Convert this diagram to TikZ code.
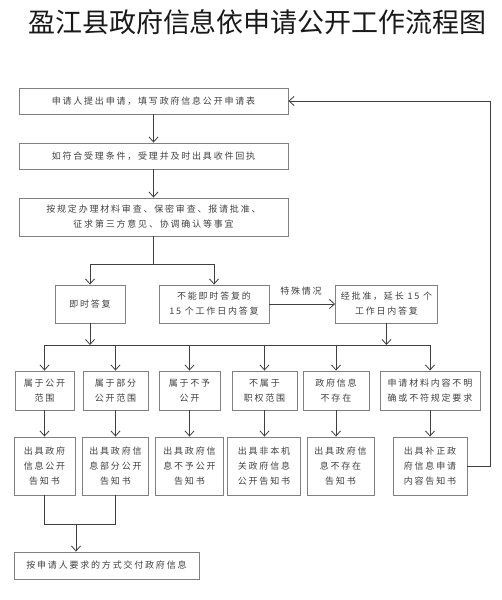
\documentclass[tikz,border=0pt]{standalone}
\usepackage{fontspec}
\setmainfont{Noto Sans CJK SC}
\newfontfamily\cjkbox[LetterSpace=20]{Noto Sans CJK SC}
\usetikzlibrary{arrows.meta}
\definecolor{boxline}{HTML}{808080}
\definecolor{txtcol}{HTML}{404040}
\definecolor{lincol}{HTML}{404040}
\begin{document}
\begin{tikzpicture}[x=1pt,y=-1pt,
  box/.style={draw=boxline, line width=0.9pt, font=\cjkbox\fontsize{9}{15}\selectfont, text=txtcol, align=center, inner sep=0pt},
  conn/.style={draw=lincol, line width=0.8pt},
  arr/.style={conn, -{Straight Barb[length=5pt,width=9pt]}},
  lbl/.style={font=\cjkbox\fontsize{9}{15}\selectfont, text=txtcol}]
\useasboundingbox (0,0) rectangle (502,600);

\node[font=\fontsize{27}{29}\selectfont, text=black!90, inner sep=0pt] (title) at (257.5,22) {盈江县政府信息依申请公开工作流程图};

\node[box, minimum width=269pt, minimum height=26pt] (b1) at (153.5,101) {申请人提出申请，填写政府信息公开申请表};
\node[box, minimum width=269pt, minimum height=26pt] (b2) at (153.5,156) {如符合受理条件，受理并及时出具收件回执};
\node[box, minimum width=269pt, minimum height=38pt] (b3) at (153.5,217) {按规定办理材料审查、保密审查、报请批准、\\征求第三方意见、协调确认等事宜};

\node[box, minimum width=70pt, minimum height=38pt] (c1) at (90,304) {即时答复};
\node[box, minimum width=110pt, minimum height=38pt] (c2) at (214,304) {不能即时答复的\\15 个工作日内答复};
\node[box, minimum width=102pt, minimum height=38pt] (c3) at (386.5,304) {经批准，延长 15 个\\工作日内答复};
\node[lbl] (lab) at (301,291) {特殊情况};

\node[box, minimum width=59pt, minimum height=39pt] (a1) at (44.5,390.5) {属于公开\\范围};
\node[box, minimum width=65pt, minimum height=39pt] (a2) at (115.5,390.5) {属于部分\\公开范围};
\node[box, minimum width=61pt, minimum height=39pt] (a3) at (189.5,390.5) {属于不予\\公开};
\node[box, minimum width=65pt, minimum height=39pt] (a4) at (264.5,390.5) {不属于\\职权范围};
\node[box, minimum width=66pt, minimum height=39pt] (a5) at (336,390.5) {政府信息\\不存在};
\node[box, minimum width=100pt, minimum height=39pt] (a6) at (430,390.5) {申请材料内容不明\\确或不符规定要求};

\node[box, minimum width=61pt, minimum height=58pt] (d1) at (44.5,466) {出具政府\\信息公开\\告知书};
\node[box, minimum width=66pt, minimum height=58pt] (d2) at (115.5,466) {出具政府信\\息部分公开\\告知书};
\node[box, minimum width=68pt, minimum height=58pt] (d3) at (189.5,466) {出具政府信\\息不予公开\\告知书};
\node[box, minimum width=73pt, minimum height=58pt] (d4) at (264,466) {出具非本机\\关政府信息\\公开告知书};
\node[box, minimum width=67pt, minimum height=58pt] (d5) at (340.5,466) {出具政府信\\息不存在\\告知书};
\node[box, minimum width=74pt, minimum height=58pt] (d6) at (430,466) {出具补正政\\府信息申请\\内容告知书};

\node[box, minimum width=185pt, minimum height=27pt] (e) at (106.5,565.5) {按申请人要求的方式交付政府信息};

\coordinate (s1) at (153.5,264);
\coordinate (s2) at (0,345);
\coordinate (fb) at (490,466);
\coordinate (j) at (76,524);

\draw[arr] (b1) -- (b2);
\draw[arr] (b2) -- (b3);
\draw[conn] (b3.south) -- (s1);
\draw[conn] (c1.north |- s1) -- (c2.north |- s1);
\draw[arr] (c1.north |- s1) -- (c1.north);
\draw[arr] (c2.north |- s1) -- (c2.north);
\draw[arr] (c2.east) -- (c3.west);

\draw[arr] (c1.south) -- (c1.south |- s2);
\draw[arr] (c3.south) -- (c3.south |- s2);
\draw[conn] (a1.north |- s2) -- (a6.north |- s2);
\foreach \n in {a1,a2,a3,a4,a5,a6} {
  \draw[arr] (\n.north |- s2) -- (\n.north);
}
\draw[arr] (a1.south) -- (d1.north);
\draw[arr] (a2.south) -- (d2.north);
\draw[arr] (a3.south) -- (d3.north);
\draw[arr] (a4.south) -- (a4.south |- d4.north);
\draw[arr] (a5.south) -- (a5.south |- d5.north);
\draw[arr] (a6.south) -- (d6.north);

\draw[arr] (d6.east) -- (fb) |- (b1.east);

\draw[conn] (d1.south) -- (d1.south |- j) -- (d2.south |- j) -- (d2.south);
\draw[arr] (j) -- (j |- e.north);
\end{tikzpicture}
\end{document}
